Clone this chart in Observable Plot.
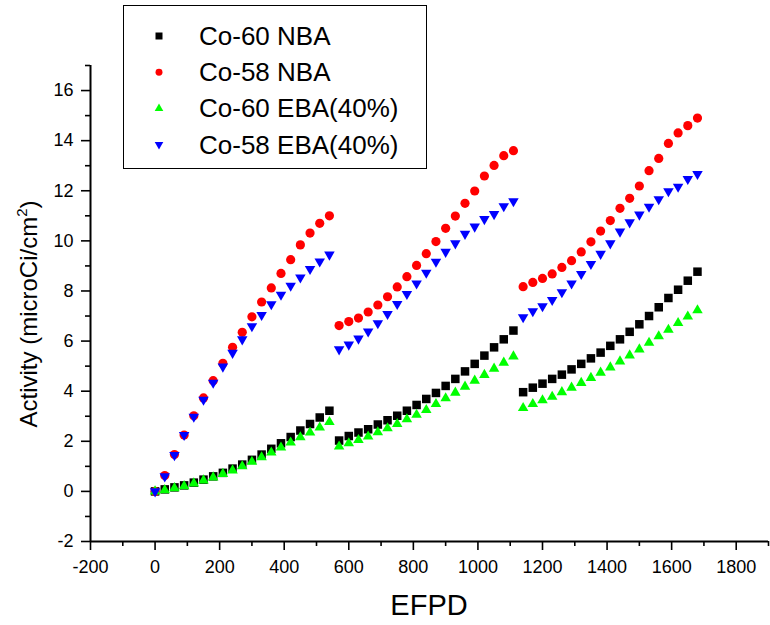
<!DOCTYPE html>
<html>
<head>
<meta charset="utf-8">
<script src="https://cdn.jsdelivr.net/npm/d3@7"></script>
<script src="https://cdn.jsdelivr.net/npm/@observablehq/plot@0.6"></script>
<style>
  html, body { margin: 0; padding: 0; background: #fff; }
  #wrap { position: relative; width: 770px; height: 625px; font-family: "Liberation Sans", Arial, sans-serif; }
  #legend { position: absolute; left: 123px; top: 5px; width: 304px; height: 164px; box-sizing: border-box; border: 1.3px solid #000; background: #fff; }
</style>
</head>
<body>
<div id="wrap"></div>
<script>
// ---- data ----
const efpd = [0,30,60,90,120,150,180,210,240,270,300,330,360,390,420,450,480,510,540,
  570,600,630,660,690,720,750,780,810,840,870,900,930,960,990,1020,1050,1080,1110,
  1140,1170,1200,1230,1260,1290,1320,1350,1380,1410,1440,1470,1500,1530,1560,1590,1620,1650,1680];

const co60NBA = [0,0.08,0.16,0.24,0.35,0.47,0.60,0.74,0.91,1.07,1.26,1.47,1.70,1.92,2.17,2.43,2.69,2.95,3.22,
  2.03,2.21,2.35,2.48,2.67,2.84,3.02,3.22,3.45,3.69,3.93,4.21,4.49,4.79,5.09,5.42,5.75,6.07,6.42,
  3.96,4.14,4.30,4.49,4.66,4.87,5.09,5.31,5.54,5.81,6.07,6.37,6.67,7.00,7.35,7.72,8.05,8.41,8.77];

const co58NBA = [0,0.63,1.47,2.25,3.02,3.73,4.42,5.11,5.75,6.35,6.97,7.56,8.12,8.70,9.25,9.84,10.31,10.70,11.00,
  6.62,6.78,6.92,7.16,7.44,7.77,8.16,8.57,9.02,9.49,9.97,10.50,10.99,11.50,11.99,12.59,13.01,13.40,13.60,
  8.17,8.34,8.50,8.68,8.94,9.21,9.56,9.96,10.39,10.81,11.30,11.70,12.19,12.80,13.29,13.89,14.31,14.60,14.90];

const co60EBA = [0,0.05,0.13,0.21,0.32,0.44,0.56,0.70,0.84,1.00,1.18,1.36,1.55,1.75,1.95,2.16,2.35,2.55,2.77,
  1.79,1.92,2.05,2.19,2.36,2.52,2.69,2.88,3.06,3.25,3.49,3.72,3.94,4.18,4.42,4.65,4.90,5.14,5.39,
  3.33,3.49,3.64,3.78,3.96,4.14,4.33,4.53,4.74,4.95,5.19,5.43,5.67,5.93,6.19,6.45,6.72,6.98,7.23];

const co58EBA = [0,0.60,1.45,2.25,2.98,3.66,4.34,4.98,5.53,6.07,6.59,7.04,7.47,7.85,8.21,8.54,8.88,9.18,9.45,
  5.67,5.86,6.10,6.38,6.71,7.08,7.48,7.88,8.30,8.73,9.17,9.56,9.90,10.28,10.57,10.87,11.07,11.38,11.58,
  6.95,7.19,7.39,7.64,7.95,8.30,8.68,9.08,9.48,9.90,10.37,10.74,11.05,11.36,11.66,11.98,12.16,12.47,12.67];

const seriesNames = ["Co-60 NBA", "Co-58 NBA", "Co-60 EBA(40%)", "Co-58 EBA(40%)"];
const seriesColors = ["#000000", "#ff0000", "#00ff00", "#0000ff"];
const seriesValues = [co60NBA, co58NBA, co60EBA, co58EBA];

const xTicks = [-200,0,200,400,600,800,1000,1200,1400,1600,1800];
const xMinorTicks = [-100,100,300,500,700,900,1100,1300,1500,1700,1900];
const yTicks = [-2,0,2,4,6,8,10,12,14,16];
const yMinorTicks = [-1,1,3,5,7,9,11,13,15,17];

// inverted triangle symbol
const triangleDown = {
  draw(context, size) {
    const y = -Math.sqrt(size / (Math.sqrt(3) * 3));
    context.moveTo(0, -y * 2);
    context.lineTo(-Math.sqrt(3) * y, y);
    context.lineTo(Math.sqrt(3) * y, y);
    context.closePath();
  }
};
const seriesSymbols = ["square", "circle", "triangle", triangleDown];
const seriesD3Symbols = [d3.symbolSquare, d3.symbolCircle, d3.symbolTriangle, triangleDown];
const seriesR = [4.8, 4.6, 3.9, 3.9];

const table = efpd.map((e, i) => ({efpd: e, s0: co60NBA[i], s1: co58NBA[i], s2: co60EBA[i], s3: co58EBA[i]}));
const plain = d => String(d);

const chart = Plot.plot({
  width: 770,
  height: 625,
  marginLeft: 90,
  marginRight: 2,
  marginTop: 65,
  marginBottom: 84,
  style: {fontFamily: "'Liberation Sans', Arial, sans-serif", fontSize: "18px", background: "#fff", color: "#000"},
  x: {domain: [-200, 1900]},
  y: {domain: [-2, 17]},
  marks: [
    Plot.axisX({ticks: xTicks, tickSize: 9, tickPadding: 10, strokeWidth: 1.6, tickFormat: plain, label: null}),
    Plot.axisX({ticks: xMinorTicks, tickSize: 5, strokeWidth: 1.6, tickFormat: () => "", label: null}),
    Plot.axisY({ticks: yTicks, tickSize: 9, tickPadding: 8, strokeWidth: 1.6, tickFormat: plain, label: null}),
    Plot.axisY({ticks: yMinorTicks, tickSize: 5, strokeWidth: 1.6, tickFormat: () => "", label: null}),
    Plot.ruleX([-200], {strokeWidth: 2}),
    Plot.ruleY([-2], {strokeWidth: 2}),
    ...seriesValues.map((vals, k) =>
      Plot.dot(table, {x: "efpd", y: "s" + k, symbol: seriesSymbols[k], fill: seriesColors[k], r: seriesR[k]})
    )
  ]
});

const wrap = document.getElementById("wrap");
wrap.appendChild(chart);

// axis titles
const svg = d3.select(chart);
const yl = svg.append("text")
  .attr("transform", "translate(37,314) rotate(-90)")
  .attr("text-anchor", "middle")
  .attr("font-size", 24)
  .attr("fill", "#000");
yl.append("tspan").text("Activity (microCi/cm");
yl.append("tspan").attr("font-size", 15).attr("dy", -10).text("2");
yl.append("tspan").attr("dy", 10).text(")");

svg.append("text")
  .attr("x", 429).attr("y", 615)
  .attr("text-anchor", "middle")
  .attr("font-size", 29)
  .attr("fill", "#000")
  .text("EFPD");

// legend
const legend = d3.select(wrap).append("div").attr("id", "legend");
const lsvg = legend.append("svg").attr("width", 302).attr("height", 162)
  .style("font-family", "'Liberation Sans', Arial, sans-serif");
const legendSizes = [49, 38, 32, 32];
seriesNames.forEach((name, k) => {
  const cy = 30 + k * 36.2;
  lsvg.append("path")
    .attr("transform", `translate(35,${cy})`)
    .attr("d", d3.symbol(seriesD3Symbols[k], legendSizes[k])())
    .attr("fill", seriesColors[k]);
  lsvg.append("text")
    .attr("x", 75).attr("y", cy + 9)
    .attr("font-size", 26)
    .attr("fill", "#000")
    .text(name);
});
</script>
</body>
</html>
